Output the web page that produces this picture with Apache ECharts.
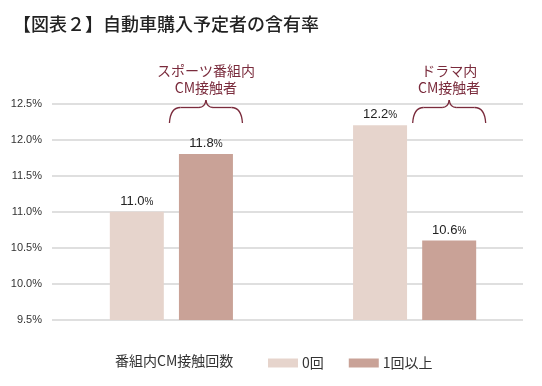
<!DOCTYPE html>
<html>
<head>
<meta charset="utf-8">
<script src="https://cdn.jsdelivr.net/npm/echarts@6/dist/echarts.min.js"></script>
<style>html,body{margin:0;padding:0;background:#fff;}#c{width:542px;height:386px;}</style>
</head>
<body>
<div id="c"></div>
<script>
const categories = ['スポーツ番組内', 'ドラマ内'];
const seriesNames = ['0回', '1回以上'];
const zeroTimes = [11.0, 12.2];
const oneOrMore = [11.8, 10.6];
const yTicks = [9.5, 10.0, 10.5, 11.0, 11.5, 12.0, 12.5];
const annotations = [['スポーツ番組内', 'CM接触者'], ['ドラマ内', 'CM接触者']];
const titleText = '【図表２】自動車購入予定者の含有率';
const legendTitle = '番組内CM接触回数';

const colors = ['#e6d4cc', '#c9a297'];
const accent = '#7a2b3c';
const latin = 'Liberation Sans, Arial, Noto Sans CJK JP, sans-serif';
const cjk = 'Noto Sans CJK JP, sans-serif';

const chart = echarts.init(document.getElementById('c'), null, {renderer: 'canvas'});

const labelOpt = {
  show: true,
  position: 'top',
  distance: 4,
  formatter: p => '{v|' + p.value.toFixed(1) + '}{p|%}',
  rich: {
    v: {fontSize: 13, color: '#222', fontFamily: latin},
    p: {fontSize: 10, color: '#222', fontFamily: latin, padding: [2, 0, 0, 0]}
  }
};

const option = {
  animation: false,
  backgroundColor: '#fff',
  title: {
    text: titleText,
    left: 8,
    top: 10,
    textStyle: {fontSize: 18, fontWeight: 500, color: '#222', fontFamily: cjk}
  },
  legend: {
    data: seriesNames,
    left: 263,
    top: 351,
    itemWidth: 30,
    itemHeight: 9,
    itemGap: 25,
    icon: 'rect',
    textStyle: {fontSize: 14, color: '#333', fontFamily: cjk, padding: [0, 0, 0, -1]}
  },
  grid: [
    {left: 52, right: 19, top: 103.5, bottom: 66},
    {left: 49.75, right: 5.75, top: 103.5, bottom: 66}
  ],
  xAxis: [
    {gridIndex: 0, type: 'category', data: categories, show: false},
    {gridIndex: 1, type: 'category', data: categories, show: false}
  ],
  yAxis: [
    {
      gridIndex: 0, type: 'value', min: yTicks[0], max: yTicks[yTicks.length - 1], interval: 0.5,
      axisLine: {show: false}, axisTick: {show: false},
      axisLabel: {margin: 10, fontSize: 11, color: '#333', fontFamily: latin,
        formatter: v => v.toFixed(1) + '%'},
      splitLine: {lineStyle: {color: '#d4d4d4', width: 1.5}}
    },
    {
      gridIndex: 1, type: 'value', min: yTicks[0], max: yTicks[yTicks.length - 1], interval: 0.5,
      show: false, splitLine: {show: false}
    }
  ],
  series: [
    {
      name: seriesNames[0], type: 'bar', xAxisIndex: 1, yAxisIndex: 1,
      data: zeroTimes, barWidth: 54, barGap: '28%',
      itemStyle: {color: colors[0]}, label: labelOpt
    },
    {
      name: seriesNames[1], type: 'bar', xAxisIndex: 1, yAxisIndex: 1,
      data: oneOrMore, barWidth: 54, barGap: '28%',
      itemStyle: {color: colors[1]}, label: labelOpt
    }
  ]
};
chart.setOption(option);

// annotations: braces & texts placed over the "1回以上" bars
const graphics = [{
  type: 'text', left: 115, top: 354,
  style: {text: legendTitle, fontSize: 14, fill: '#333', fontFamily: cjk}
}];
const data1 = chart.getModel().getSeriesByIndex(1).getData();
annotations.forEach((lines, i) => {
  const lay = data1.getItemLayout(i);
  const xc = lay.x + lay.width / 2;
  const half = 36.5;
  const x0 = xc - half, x1 = xc + half;
  const yB = 123, yM = 107.5, yT = 100;
  const ls = {stroke: accent, lineWidth: 1.3, fill: null};
  graphics.push(
    {type: 'bezierCurve', shape: {x1: x0, y1: yB, x2: x0 + 11, y2: yM, cpx1: x0 + 1, cpy1: yM}, style: ls, silent: true},
    {type: 'line', shape: {x1: x0 + 11, y1: yM, x2: xc - 7, y2: yM}, style: ls, silent: true},
    {type: 'bezierCurve', shape: {x1: xc - 7, y1: yM, x2: xc, y2: yT, cpx1: xc - 1, cpy1: yM}, style: ls, silent: true},
    {type: 'bezierCurve', shape: {x1: xc + 7, y1: yM, x2: xc, y2: yT, cpx1: xc + 1, cpy1: yM}, style: ls, silent: true},
    {type: 'line', shape: {x1: xc + 7, y1: yM, x2: x1 - 11, y2: yM}, style: ls, silent: true},
    {type: 'bezierCurve', shape: {x1: x1, y1: yB, x2: x1 - 11, y2: yM, cpx1: x1 - 1, cpy1: yM}, style: ls, silent: true},
    {type: 'text', x: xc, y: 71, style: {text: lines[0], fontSize: 14, fill: accent, fontFamily: cjk, align: 'center', verticalAlign: 'middle'}},
    {type: 'text', x: xc, y: 88, style: {text: lines[1], fontSize: 14, fill: accent, fontFamily: cjk, align: 'center', verticalAlign: 'middle'}}
  );
});
chart.setOption({graphic: graphics});
</script>
</body>
</html>
